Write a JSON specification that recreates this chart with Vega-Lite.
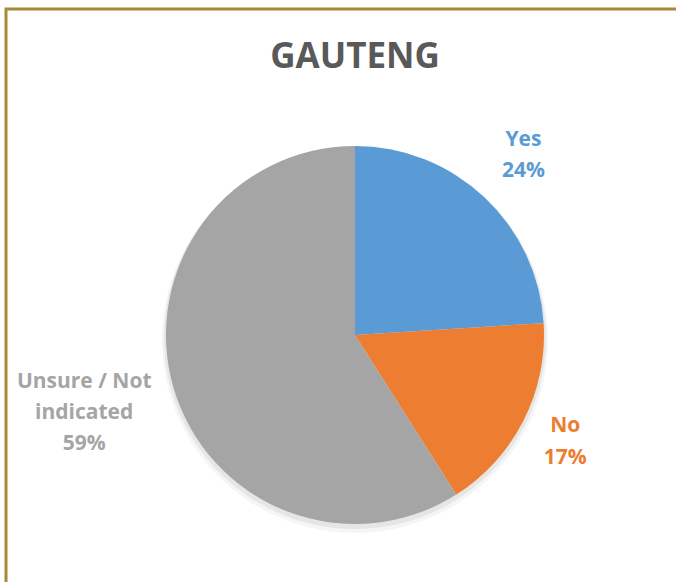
{
  "$schema": "https://vega.github.io/schema/vega-lite/v6.json",
  "autosize": "none",
  "width": 698,
  "height": 652,
  "padding": {"left": 6, "top": 9, "right": 0, "bottom": 0},
  "background": "white",
  "view": {"stroke": "#A8893A", "strokeWidth": 3, "fill": "white"},
  "title": {
    "text": "GAUTENG",
    "orient": "top",
    "anchor": "middle",
    "frame": "group",
    "offset": -94,
    "baseline": "alphabetic",
    "font": "Open Sans",
    "fontSize": 35,
    "fontWeight": "bold",
    "color": "#595959"
  },
  "data": {
    "values": [
      {"category": "Yes", "value": 24, "rank": 1, "label": "Yes\n24%"},
      {"category": "No", "value": 17, "rank": 2, "label": "No\n17%"},
      {"category": "Unsure / Not indicated", "value": 59, "rank": 3, "label": "Unsure / Not\nindicated\n59%"}
    ]
  },
  "encoding": {
    "theta": {"field": "value", "type": "quantitative", "stack": true},
    "order": {"field": "rank", "type": "quantitative", "sort": "ascending"},
    "color": {
      "field": "category",
      "type": "nominal",
      "scale": {"domain": ["Yes", "No", "Unsure / Not indicated"], "range": ["#5B9BD5", "#ED7D31", "#A5A5A5"]},
      "legend": null
    }
  },
  "layer": [
    {
      "mark": {"type": "arc", "radius": 193, "yOffset": 5, "fill": "#000000", "opacity": 0.04, "stroke": null}
    },
    {
      "mark": {"type": "arc", "radius": 191, "yOffset": 3, "fill": "#000000", "opacity": 0.06, "stroke": null}
    },
    {
      "mark": {"type": "arc", "radius": 189, "stroke": null}
    },
    {
      "mark": {"type": "text", "radius": 246, "dy": -16, "font": "Open Sans", "fontSize": 21, "fontWeight": "bold", "lineBreak": "\n", "lineHeight": 31, "align": "center", "baseline": "middle"},
      "encoding": {
        "text": {"condition": {"test": "datum.category === 'Yes'", "field": "label"}, "value": ""}
      }
    },
    {
      "mark": {"type": "text", "radius": 236, "dy": -16, "font": "Open Sans", "fontSize": 21, "fontWeight": "bold", "lineBreak": "\n", "lineHeight": 32, "align": "center", "baseline": "middle"},
      "encoding": {
        "text": {"condition": {"test": "datum.category === 'No'", "field": "label"}, "value": ""}
      }
    },
    {
      "mark": {"type": "text", "radius": 282, "dy": -32, "font": "Open Sans", "fontSize": 21, "fontWeight": "bold", "lineBreak": "\n", "lineHeight": 31, "align": "center", "baseline": "middle"},
      "encoding": {
        "text": {"condition": {"test": "datum.category === 'Unsure / Not indicated'", "field": "label"}, "value": ""}
      }
    }
  ]
}
